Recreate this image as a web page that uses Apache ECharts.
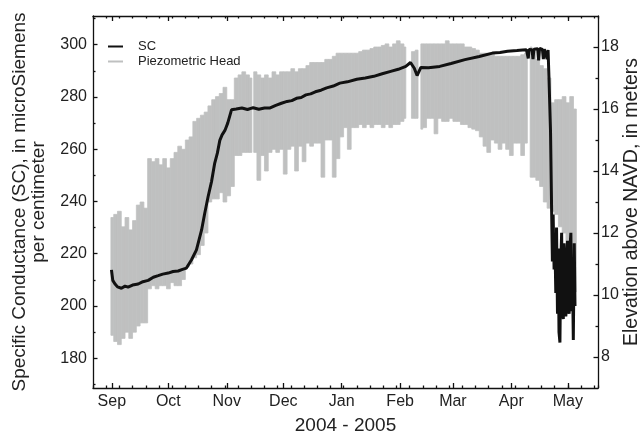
<!DOCTYPE html>
<html><head><meta charset="utf-8">
<script src="https://cdn.jsdelivr.net/npm/echarts@6/dist/echarts.min.js"></script>
<style>html,body{margin:0;padding:0;background:#fff}#c{width:641px;height:433px}</style>
</head><body><div id="c"></div>
<script>
// x values are days counted from 2004-08-22 (a Sunday)
const monthNames = ['Sep','Oct','Nov','Dec','Jan','Feb','Mar','Apr','May'];
const monthDays = [10,40,71,101,132,163,191,222,252];
const scTicks = [180,200,220,240,260,280,300];
const scMinorTicks = [170,190,210,230,250,270,290,310];
const elevTicks = [8,10,12,14,16,18];
const elevMinorTicks = [9,11,13,15,17];

// Specific conductance (microSiemens/cm)
const scDay = [9.8,10.5,11.6,13,15.1,17,18.6,21,24,26.5,29.3,32,34.6,37,39.9,42.5,45.2,47.5,49.6,52.3,54.9,57.6,59.3,61.1,62.9,64.6,66,67.3,68.5,70,71.5,73.5,
  76,79,82,85,88,91,94,97,100,103,105.5,108,110.5,113,115.5,118,121,124,127.5,131,135,140,144.5,149,153.5,158,162,166,168.5,170.5,172,174,178,184,190,197.4,205,212,216,220,225,228,
  230,231,231.4,232,233,233.5,234,236,236.5,237,238.5,239,239.5,240.5,241,241.5,242,242.8,243.4,243.8,244.2,244.7,245.1,245.6,246,246.5,246.9,247.3,247.8,248.2,248.7,249.1,249.6,250,250.5,250.9,251.4,251.8,252.3,252.7,253.2,253.6,254,254.5,254.9,255.4,255.8];
const scValue = [213.8,209.8,208.5,207.3,206.8,207.6,207.2,208,208.4,209.3,209.8,211,211.6,212.2,212.6,213.2,213.4,214,214.5,217.7,221.5,229,235.5,241.9,247.6,254.7,258.5,263.4,265.5,267.2,270,275.1,
  275.4,275.8,275.2,275.9,275.3,275.8,275.8,276.8,277.6,278.3,278.6,279.5,279.8,280.8,281.2,282,282.6,283.5,284.2,285.3,285.8,286.8,287.3,287.9,288.9,289.8,290.6,291.7,293.2,291,288.2,291.3,291.2,291.7,292.8,294.3,295.5,296.8,297,297.5,297.8,298,
  298.1,294.8,298.2,298,298.1,294.5,298.3,298.5,294,298.6,298.2,294.5,298.3,298,294.5,298,287,267,236,217,235,214,226,205,230,197,222,190,186,215,228,199,195,224,218,196,200,225,203,197,223,228,198,210,187,224,200];

// Piezometric head (elevation above NAVD, m): range [low, high] for each period starting at piezoDay
const piezoDay = [9.5,11,13,15,17,19,21,23,25,27,29,31,33,35,37,39,41,43,45,47,49,51,53,55,57,59,61,63,65,67,69,71,73,75,77,79,81,83,84.3,85.3,87,89,91,93,95,97,99,101,103,105,107,109,111,113,115,117,119,121,123,125,127,129,131,133,135,137,139,141,143,145,147,149,151,153,155,157,159,161,163,165,166,169,171,172.5,174,175,177,179,181,183,185,187,189,191,193,195,197,199,201,203,205,207,209,211,213,215,217,219,221,223,225,227,229,230.5,232,233,235,237,239,241,243,245,247,249,251,253,255,256.5];
const piezoLow = [8.7,8.5,8.4,8.6,8.8,8.6,8.8,9.0,9.1,9.1,10.2,10.3,10.2,10.3,10.3,10.2,10.4,10.3,10.3,10.5,10.9,11.0,11.2,11.3,11.6,12.0,13.0,13.1,13.1,13.3,13.0,13.2,13.5,14.5,14.5,14.6,14.6,14.6,null,14.6,13.7,14.5,14.0,14.6,14.7,14.6,14.7,13.9,14.7,14.8,14.0,14.8,14.3,14.9,14.8,14.9,14.9,13.8,15.0,15.0,13.8,14.4,15.1,15.4,14.7,15.4,15.4,15.5,15.4,15.5,15.4,15.5,15.5,15.4,15.5,15.4,15.5,15.5,15.6,15.7,null,15.7,15.7,null,15.35,15.4,15.7,15.7,15.2,15.7,15.6,15.6,15.7,15.6,15.6,15.5,15.5,15.4,15.35,15.3,15.1,14.8,14.6,15.0,14.9,14.7,14.9,14.7,14.5,14.9,14.9,14.5,14.9,null,13.8,13.8,13.7,13.5,13.0,12.8,12.7,12.6,12.2,12.0,11.5,11.0,10.1,null];
const piezoHigh = [12.5,12.6,12.7,12.2,12.5,12.1,12.4,12.9,13.0,12.8,14.4,14.3,14.4,14.2,14.4,14.1,14.4,14.6,14.8,14.7,15.0,15.1,15.6,15.7,15.8,15.9,16.1,16.3,16.4,16.5,16.7,16.3,16.3,17.0,17.1,17.2,17.1,17.0,null,17.2,17.1,17.0,17.1,17.0,17.2,17.1,17.2,17.2,17.2,17.3,17.2,17.3,17.3,17.4,17.5,17.5,17.5,17.5,17.6,17.6,17.7,17.8,17.8,17.8,17.8,17.8,17.8,17.85,17.9,17.9,17.95,18.0,18.0,18.05,18.1,18.0,18.1,18.2,18.1,18.0,null,17.85,17.9,null,18.1,18.1,18.1,18.1,18.1,18.1,18.1,18.2,18.1,18.1,18.1,18.1,18.0,18.0,17.95,17.9,17.8,17.8,17.8,17.8,17.7,17.7,17.7,17.7,17.7,17.7,17.7,17.75,17.8,null,18.0,17.9,17.6,17.4,17.3,17.0,16.2,16.3,16.3,16.4,16.2,16.4,16.0,null];

const FONT = '"Liberation Sans", Arial, Helvetica, sans-serif';
const TXT = '#222';
const GRAY = '#bfc0c0';
const scData = scDay.map((d, i) => [d, scValue[i]]);
const piezoData = [];
for (let i = 0; i < piezoDay.length - 1; i++) {
  if (piezoLow[i] == null) continue;
  piezoData.push([piezoDay[i], piezoDay[i + 1], piezoLow[i], piezoHigh[i]]);
}

const lineStyle = { color: '#111', width: 1.3 };
function xAx(pos, major, showLabel) {
  return {
    type: 'value', position: pos, min: 0, max: 268,
    interval: major ? undefined : 7,
    axisLine: { show: major, onZero: false, lineStyle: lineStyle },
    axisTick: major ? { inside: true, length: 5, customValues: monthDays, lineStyle: lineStyle }
                    : { inside: true, length: 2.5, lineStyle: lineStyle },
    axisLabel: showLabel ? { customValues: monthDays, margin: 6, fontSize: 16, color: TXT, fontFamily: FONT,
                 formatter: v => monthNames[monthDays.indexOf(v)] } : { show: false },
    splitLine: { show: false },
    name: showLabel ? '2004 - 2005' : '', nameLocation: 'middle', nameGap: 28, nameMoveOverlap: false,
    nameTextStyle: { fontSize: 19, color: TXT, fontFamily: FONT }
  };
}
function yAx(pos, min, max, ticks, len, labels, name, gap, nfs) {
  return {
    type: 'value', position: pos, min: min, max: max,
    axisLine: { show: !!labels, onZero: false, lineStyle: lineStyle },
    axisTick: { inside: true, length: len, customValues: ticks, lineStyle: lineStyle },
    axisLabel: labels ? { customValues: ticks, margin: pos === 'left' ? 6 : 3, fontSize: 16, color: TXT, fontFamily: FONT } : { show: false },
    splitLine: { show: false },
    name: name || '', nameLocation: 'middle', nameRotate: 90, nameGap: gap || 0, nameMoveOverlap: false,
    nameTextStyle: { fontSize: nfs || 16, color: TXT, fontFamily: FONT, lineHeight: 19 }
  };
}

const chart = echarts.init(document.getElementById('c'), null, { renderer: 'canvas' });
chart.setOption({
  animation: false,
  backgroundColor: '#fff',
  grid: { left: 93, right: 43, top: 16, bottom: 45, containLabel: false, outerBoundsMode: 'none' },
  legend: {
    orient: 'vertical', left: 108, top: 40, padding: 0, itemWidth: 15, itemHeight: 2, itemGap: 2,
    textStyle: { fontSize: 13, color: TXT, fontFamily: FONT, padding: [0, 0, 0, 10] },
    data: [{ name: 'SC', icon: 'rect' }, { name: 'Piezometric Head', icon: 'rect' }]
  },
  xAxis: [xAx('bottom', true, true), xAx('bottom', false, false), xAx('top', true, false), xAx('top', false, false)],
  yAxis: [
    yAx('left', 168.6, 311, scTicks, 4.5, true, 'Specific Conductance (SC), in microSiemens\nper centimeter', 45, 19),
    yAx('right', 7, 19, elevTicks, 4.5, true, 'Elevation above NAVD, in meters', 24, 19.5),
    yAx('left', 168.6, 311, scMinorTicks, 2.5, false),
    yAx('right', 7, 19, elevMinorTicks, 2.5, false)
  ],
  series: [
    {
      name: 'Piezometric Head', type: 'custom', xAxisIndex: 0, yAxisIndex: 1, z: 2,
      itemStyle: { color: GRAY },
      encode: { x: [0, 1], y: [2, 3] },
      data: piezoData,
      renderItem: function (params, api) {
        const p1 = api.coord([api.value(0), api.value(3)]);
        const p2 = api.coord([api.value(1), api.value(2)]);
        return { type: 'rect', shape: { x: p1[0], y: p1[1], width: p2[0] - p1[0], height: p2[1] - p1[1] },
                 style: { fill: GRAY, stroke: GRAY, lineWidth: 0.8 } };
      }
    },
    {
      name: 'SC', type: 'line', xAxisIndex: 0, yAxisIndex: 0, z: 5,
      data: scData, showSymbol: false, symbol: 'none',
      lineStyle: { color: '#111', width: 3 }, itemStyle: { color: '#111' }
    }
  ]
});
</script>
</body></html>
